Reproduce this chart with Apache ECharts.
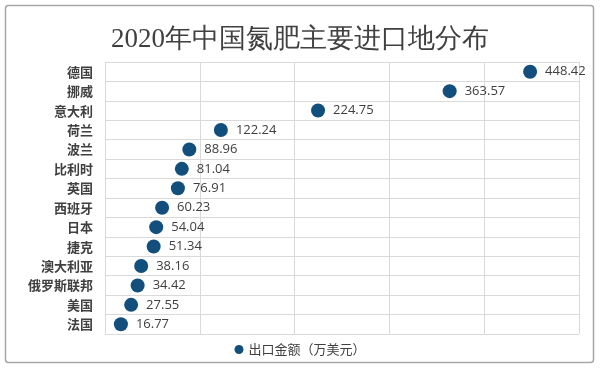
<!DOCTYPE html>
<html><head><meta charset="utf-8">
<script src="https://cdn.jsdelivr.net/npm/echarts@6/dist/echarts.min.js"></script>
<style>html,body{margin:0;padding:0;background:#fff}#c{width:600px;height:369px}</style>
</head><body><div id="c"></div>
<script>
const categories = ['德国','挪威','意大利','荷兰','波兰','比利时','英国','西班牙','日本','捷克','澳大利亚','俄罗斯联邦','美国','法国'];
const values = [448.42,363.57,224.75,122.24,88.96,81.04,76.91,60.23,54.04,51.34,38.16,34.42,27.55,16.77];
const seriesName = '出口金额（万美元）';
const chart = echarts.init(document.getElementById('c'));
chart.setOption({
  animation:false,
  backgroundColor:'#fff',
  graphic:[{type:'rect',shape:{x:5.5,y:5.5,width:588,height:357,r:3},style:{fill:'none',stroke:'#a6a6a6',lineWidth:1.5},z:-1}],
  title:{text:'2020年中国氮肥主要进口地分布',left:'center',top:21,textStyle:{fontFamily:'serif',fontSize:27,fontWeight:'normal',color:'#404040'}},
  legend:{bottom:8,left:'center',itemWidth:9,itemHeight:9,itemGap:4,data:[{name:seriesName,icon:'circle'}],textStyle:{fontSize:13,color:'#404040',fontFamily:'Noto Sans CJK SC'}},
  grid:{left:105,right:21,top:62,bottom:35,containLabel:false},
  xAxis:{type:'value',min:0,max:500,interval:100,axisLabel:{show:false},axisLine:{show:false},axisTick:{show:false},splitLine:{show:true,lineStyle:{color:'#d9d9d9'}}},
  yAxis:{type:'category',inverse:true,data:categories,axisTick:{show:false},axisLine:{show:false},splitLine:{show:true,lineStyle:{color:'#d9d9d9'}},axisLabel:{fontSize:13,color:'#404040',fontWeight:'bold',margin:12,fontFamily:'Noto Sans CJK SC'}},
  series:[{name:seriesName,type:'scatter',data:values,symbolSize:14,itemStyle:{color:'#134f7c',opacity:1},label:{show:true,position:'right',distance:8,fontSize:13,color:'#404040',fontFamily:'Open Sans',formatter:p=>p.value.toFixed(2)}}]
});
</script></body></html>
